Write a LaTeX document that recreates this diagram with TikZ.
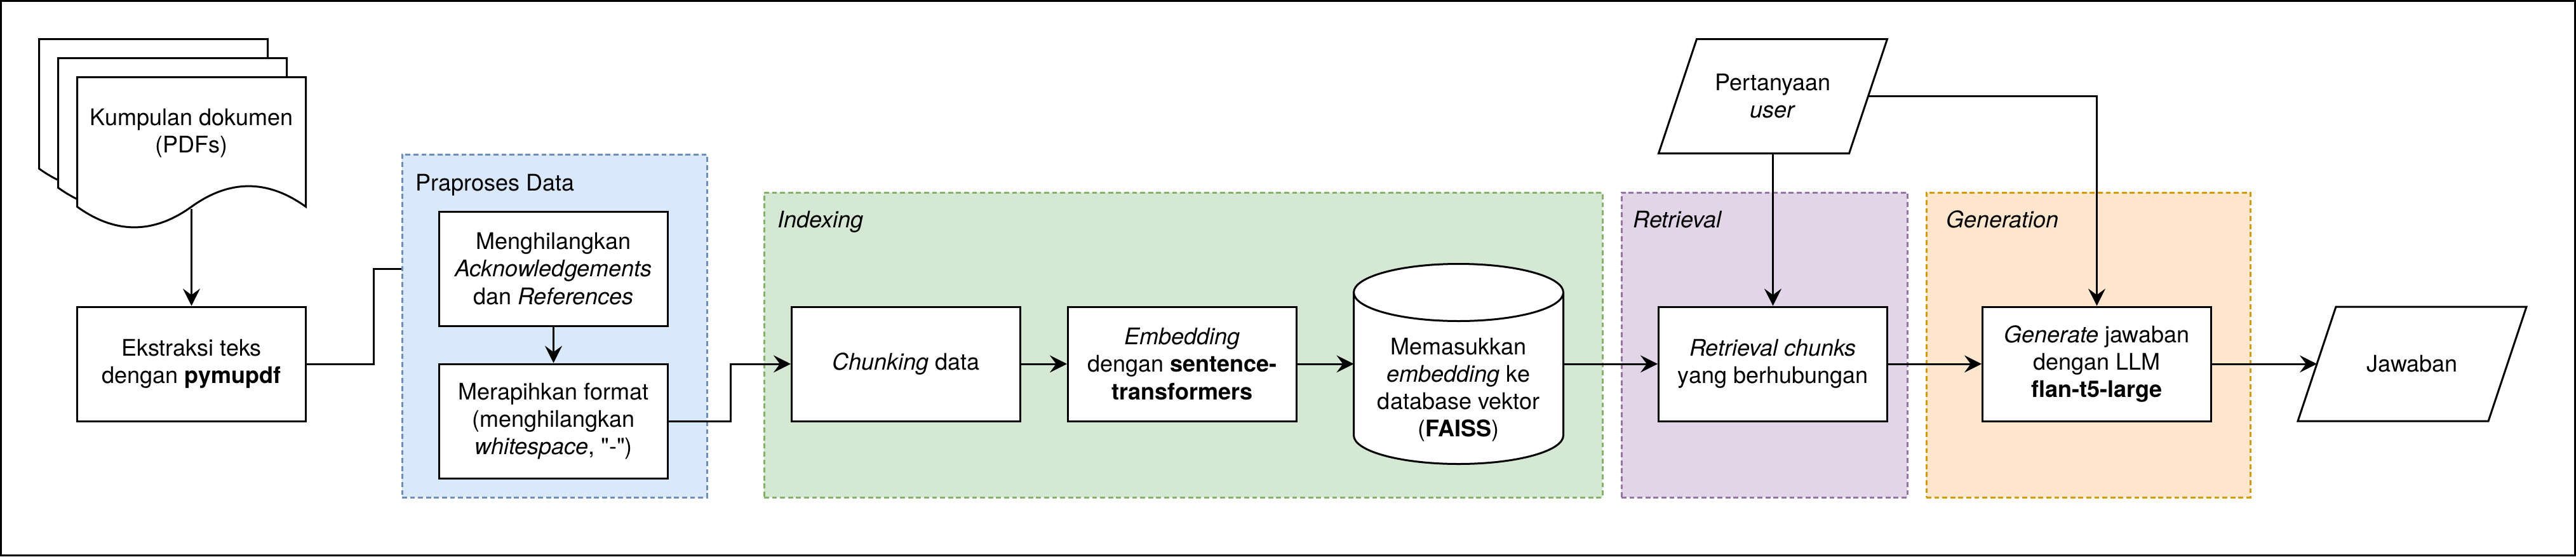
\documentclass[tikz,border=0pt]{standalone}
\usepackage{fontspec}
\setmainfont{TeX Gyre Heros}
\usepackage{tikz}
\usetikzlibrary{calc,arrows.meta,positioning}
\usepackage{xcolor}
\definecolor{preFill}{HTML}{DAE8FC}
\definecolor{preLine}{HTML}{6C8EBF}
\definecolor{idxFill}{HTML}{D5E8D4}
\definecolor{idxLine}{HTML}{82B366}
\definecolor{retFill}{HTML}{E1D5E7}
\definecolor{retLine}{HTML}{9673A6}
\definecolor{genFill}{HTML}{FFE6CC}
\definecolor{genLine}{HTML}{D79B00}
\tikzset{
  box/.style={draw,line width=1pt,fill=white,minimum width=120pt,minimum height=60pt,align=center,inner sep=2pt},
  grp/.style={line width=1pt,dash pattern=on 2.6pt off 1.6pt,anchor=north west},
  plain/.style={align=center,inner sep=0pt,outer sep=0pt},
  tag/.style={anchor=base west,inner sep=0pt},
  every node/.style={font=\fontsize{12pt}{14.4pt}\selectfont}
}
\tikzstyle{arrow} = [line width=1pt,-{Stealth[length=9pt,width=9pt,inset=3.3pt]}]
\tikzstyle{link} = [line width=1pt]

\begin{document}
\begin{tikzpicture}[x=1pt,y=-1pt]
  % --- Window and frame ---
  \useasboundingbox (-0.5,-0.5) rectangle (1351.5,291.5);
  \draw[line width=1pt] (0,0) rectangle (1351,291);

  % --- Groups ---
  \node[grp,draw=preLine,fill=preFill,minimum width=160pt,minimum height=180pt] (praproses) at (210,80) {};
  \node[grp,draw=idxLine,fill=idxFill,minimum width=440pt,minimum height=160pt] (indexing) at (400,100) {};
  \node[grp,draw=retLine,fill=retFill,minimum width=150pt,minimum height=160pt] (retrieval) at (850,100) {};
  \node[grp,draw=genLine,fill=genFill,minimum width=170pt,minimum height=160pt] (generation) at (1010,100) {};
  \node[tag] (praproses-tag) at (217.5,99.5) {Praproses Data};
  \node[tag] (indexing-tag) at (407.5,119) {\textit{Indexing}};
  \node[tag] (retrieval-tag) at (856.5,119) {\textit{Retrieval}};
  \node[tag] (generation-tag) at (1020.7,119) {\textit{Generation}};

  % --- Documents (three pages) ---
  \foreach \d in {0,10,20} {
    \draw[line width=1pt,fill=white] (20+\d,20+\d) -- (140+\d,20+\d) -- (140+\d,88+\d)
      .. controls (120+\d,73.6+\d) and (100+\d,73.6+\d) .. (80+\d,88+\d)
      .. controls (60+\d,102.4+\d) and (40+\d,102.4+\d) .. (20+\d,88+\d) -- cycle;
  }
  \node[plain] (docs) at (100,69.5) {Kumpulan dokumen\\(PDFs)};
  \coordinate (docs-bot) at (100,109);

  % --- Process boxes ---
  \node[box] (ekstr) at (100,190.5) {Ekstraksi teks\\dengan \textbf{pymupdf}};
  \node[box] (meng) at (290,140.5) {Menghilangkan\\\textit{Acknowledgements}\\dan \textit{References}};
  \node[box] (mer) at (290,220.5) {Merapihkan format\\(menghilangkan\\\textit{whitespace}, \textquotedbl-\textquotedbl)};
  \node[box] (chunk) at (475,190.5) {\textit{Chunking} data};
  \node[box] (emb) at (620,190.5) {\textit{Embedding}\\dengan \textbf{sentence-}\\\textbf{transformers}};
  \node[box] (ret) at (930,190.5) {\textit{Retrieval chunks}\\yang berhubungan};
  \node[box] (gen) at (1100,190.5) {\textit{Generate} jawaban\\dengan LLM\\\textbf{flan-t5-large}};

  % --- Vector database (cylinder) ---
  \node[plain,minimum width=110pt,minimum height=105pt] (db) at (765,190.5) {};
  \draw[line width=1pt,fill=white] ($(db.north west)+(0,15)$) -- ++(0,75)
    arc[start angle=180,end angle=360,x radius=55pt,y radius=15pt] -- ++(0,-75)
    arc[start angle=0,end angle=180,x radius=55pt,y radius=15pt] -- cycle;
  \draw[line width=1pt] ($(db.north west)+(0,15)$)
    arc[start angle=180,end angle=360,x radius=55pt,y radius=15pt];
  \node[plain] (db-text) at (765,204) {Memasukkan\\\textit{embedding} ke\\database vektor\\(\textbf{FAISS})};

  % --- Input / output (parallelograms) ---
  \node[plain,minimum width=100pt,minimum height=60pt] (qry) at (930,50) {Pertanyaan\\\textit{user}};
  \draw[line width=1pt] ([xshift=10pt]qry.north west) -- ([xshift=10pt]qry.north east)
    -- ([xshift=-10pt]qry.south east) -- ([xshift=-10pt]qry.south west) -- cycle;
  \node[plain,minimum width=100pt,minimum height=60pt] (jwb) at (1265.5,190.5) {Jawaban};
  \draw[line width=1pt] ([xshift=10pt]jwb.north west) -- ([xshift=10pt]jwb.north east)
    -- ([xshift=-10pt]jwb.south east) -- ([xshift=-10pt]jwb.south west) -- cycle;

  % --- Connectors ---
  \draw[arrow] (docs-bot) -- (ekstr.north);
  \draw[link] (ekstr.east) -- ++(35,0) |- (praproses.west |- meng.west);
  \draw[arrow] (meng) -- (mer);
  \draw[arrow] (mer.east) -- ++(32.5,0) |- (chunk.west);
  \draw[arrow] (chunk) -- (emb);
  \draw[arrow] (emb) -- (db);
  \draw[arrow] (db) -- (ret);
  \draw[arrow] (qry) -- (ret);
  \draw[arrow] (qry.east) -| (gen.north);
  \draw[arrow] (ret) -- (gen);
  \draw[arrow] (gen) -- (jwb);

\end{tikzpicture}
\end{document}
